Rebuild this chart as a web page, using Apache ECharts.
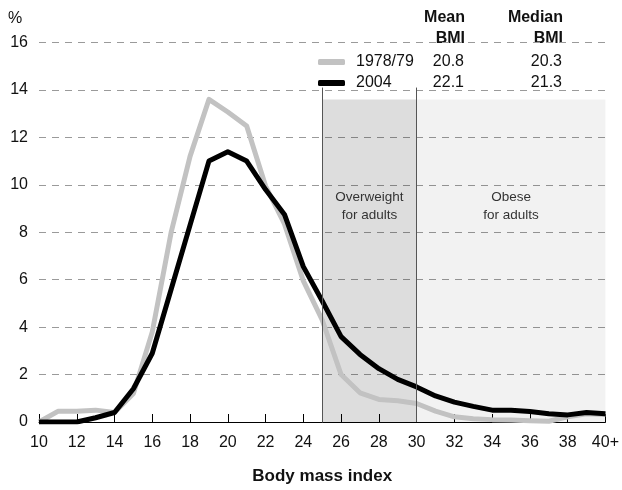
<!DOCTYPE html>
<html>
<head>
<meta charset="utf-8">
<script src="https://cdn.jsdelivr.net/npm/echarts@6/dist/echarts.min.js"></script>
<style>html,body{margin:0;padding:0;background:#fff}#c{width:622px;height:490px}</style>
</head>
<body>
<div id="c"></div>
<script>
const FONT = '"Liberation Sans", Arial, sans-serif';
const bmi = [10,11,12,13,14,15,16,17,18,19,20,21,22,23,24,25,26,27,28,29,30,31,32,33,34,35,36,37,38,39,40];
const s1978 = [0,0.45,0.45,0.5,0.4,1.2,3.8,8.0,11.2,13.6,13.07,12.48,9.95,8.35,5.95,4.3,2.0,1.23,0.95,0.9,0.78,0.46,0.22,0.14,0.1,0.08,0.05,0.03,0.22,0.35,0.32];
const s2004 = [0,0,0,0.18,0.4,1.4,2.9,5.6,8.3,11.0,11.39,11.0,9.8,8.75,6.55,5.1,3.6,2.85,2.25,1.8,1.48,1.1,0.84,0.66,0.5,0.5,0.44,0.35,0.3,0.4,0.35];
const seriesNames = ['1978/79','2004'];
const meanBMI = ['20.8','22.1'];
const medianBMI = ['20.3','21.3'];
const headers = [['Mean','BMI'],['Median','BMI']];
const xTickLabels = {10:'10',12:'12',14:'14',16:'16',18:'18',20:'20',22:'22',24:'24',26:'26',28:'28',30:'30',32:'32',34:'34',36:'36',38:'38',40:'40+'};
const bands = [
  {name:'Overweight\nfor adults', from:25, to:30, top:13.6},
  {name:'Obese\nfor adults', from:30, to:40, top:13.6}
];
const bandLines = [25, 30];
const bandLineTop = 14.1;

const chart = echarts.init(document.getElementById('c'), null, {renderer:'canvas'});
const pairs = arr => bmi.map((b,i)=>[b, arr[i]]);
const headerX = [465, 563];
const graphics = [];
headers.forEach((h,i)=>{
  graphics.push({type:'text', x:headerX[i], y:10, style:{text:h[0], align:'right', verticalAlign:'top', font:'bold 16px '+FONT, fill:'#111'}});
  graphics.push({type:'text', x:headerX[i], y:31, style:{text:h[1], align:'right', verticalAlign:'top', font:'bold 16px '+FONT, fill:'#111'}});
});
chart.setOption({
  animation:false,
  textStyle:{fontFamily:FONT},
  grid:{left:39, right:13, top:42.5, bottom:67.3},
  xAxis:{
    type:'value', min:10, max:40, interval:2,
    axisLine:{lineStyle:{color:'#000', width:1}},
    axisTick:{inside:true, length:8, lineStyle:{color:'#000'}},
    axisLabel:{formatter:v=>xTickLabels[v]||'', fontSize:16, color:'#111', margin:13, fontFamily:FONT},
    splitLine:{show:false},
    name:'Body mass index', nameLocation:'middle', nameGap:46,
    nameTextStyle:{fontSize:17, fontWeight:'bold', color:'#111', fontFamily:FONT}
  },
  yAxis:{
    type:'value', min:0, max:16, interval:2,
    axisLine:{show:false}, axisTick:{show:false},
    axisLabel:{fontSize:16, color:'#111', margin:11, fontFamily:FONT},
    splitLine:{lineStyle:{color:'#9a9a9a', type:[7,6], width:1}},
    name:'%', nameLocation:'end', nameGap:16,
    nameTextStyle:{fontSize:16, color:'#111', align:'left', padding:[0,0,0,-31], fontFamily:FONT}
  },
  legend:{
    orient:'vertical', left:318, top:54, itemGap:5, padding:0,
    itemWidth:27, itemHeight:6, icon:'roundRect',
    data:seriesNames,
    formatter:name=>{const i=seriesNames.indexOf(name);return `{n|${name}}{m|${meanBMI[i]}}{d|${medianBMI[i]}}`;},
    textStyle:{fontSize:16, color:'#111', fontFamily:FONT, padding:[0,0,0,6],
      rich:{n:{width:70, fontSize:16, fontFamily:FONT, color:'#111'},
            m:{width:38, align:'right', fontSize:16, fontFamily:FONT, color:'#111'},
            d:{width:98, align:'right', fontSize:16, fontFamily:FONT, color:'#111'}}}
  },
  graphic:graphics,
  series:[
    {
      name:'1978/79', type:'line', data:pairs(s1978), showSymbol:false, symbol:'none',
      lineStyle:{color:'#c2c2c2', width:5, join:'round'}, itemStyle:{color:'#c2c2c2'}, z:3,
      markArea:{silent:true,
        label:{position:'inside', fontSize:13.5, color:'#333', fontFamily:FONT, lineHeight:18, offset:[0,-54]},
        data:[
          [{xAxis:bands[0].from, yAxis:0, name:bands[0].name, itemStyle:{color:'rgba(0,0,0,0.135)'}},{xAxis:bands[0].to, yAxis:bands[0].top}],
          [{xAxis:bands[1].from, yAxis:0, name:bands[1].name, itemStyle:{color:'rgba(0,0,0,0.05)'}},{xAxis:bands[1].to, yAxis:bands[1].top}]
        ]},
      markLine:{silent:true, symbol:'none', label:{show:false},
        lineStyle:{color:'#555', type:'solid', width:1},
        data:bandLines.map(v=>[{coord:[v,0]},{coord:[v,bandLineTop]}])}
    },
    {
      name:'2004', type:'line', data:pairs(s2004), showSymbol:false, symbol:'none',
      lineStyle:{color:'#000', width:5, join:'round'}, itemStyle:{color:'#000'}, z:4
    }
  ]
});
</script>
</body>
</html>
